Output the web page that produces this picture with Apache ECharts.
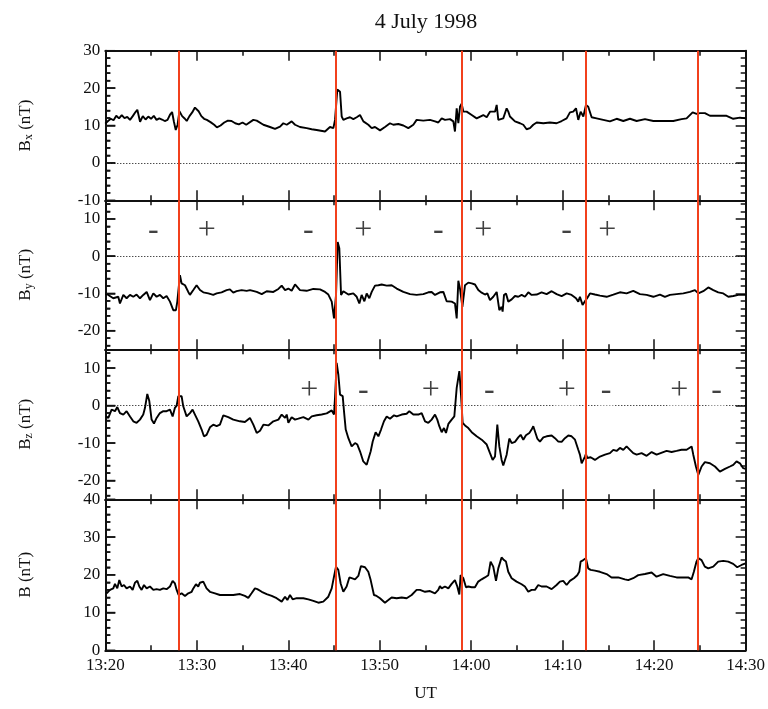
<!DOCTYPE html>
<html><head><meta charset="utf-8">
<script src="https://cdn.jsdelivr.net/npm/echarts@6/dist/echarts.min.js"></script>
<style>html,body{margin:0;padding:0;background:#fff}#c{width:768px;height:709px}</style>
</head><body><div id="c"></div>
<script>
// time in minutes after 13:20 UT
const bxT = [0.0,0.3,0.6,0.9,1.2,1.5,1.8,2.1,2.4,2.7,3.0,3.3,3.5,3.8,4.1,4.4,4.7,5.0,5.3,5.6,5.9,6.2,6.5,6.8,7.1,7.3,7.5,7.7,7.9,8.1,8.4,8.7,8.9,9.2,9.5,9.8,9.95,10.2,10.5,10.8,11.1,11.5,11.9,12.2,12.6,13.0,13.4,13.8,14.2,14.6,15.0,15.4,15.6,16.18,16.55,17.28,18.0,18.55,19.1,19.46,19.83,20.37,20.74,21.28,22.01,22.56,23.1,24.02,24.56,24.93,25.11,25.36,25.66,25.84,26.02,26.38,26.75,27.11,27.48,27.84,28.21,28.75,29.12,29.48,30.03,30.57,31.12,31.48,32.03,32.58,33.12,33.67,34.03,34.76,35.49,36.04,36.4,36.77,37.13,37.68,38.04,38.22,38.41,38.59,38.77,38.95,39.14,39.5,40.05,40.59,41.32,41.69,42.05,42.6,42.78,42.96,43.14,43.5,43.87,44.05,44.23,44.78,45.33,45.69,46.05,46.42,46.78,47.15,47.88,48.6,49.33,49.88,50.43,50.79,51.15,51.45,51.7,51.96,52.25,52.54,52.79,53.16,53.7,54.43,55.16,55.89,56.62,57.35,58.08,58.99,59.9,60.99,62.08,62.99,63.54,64.2,64.63,65.0,65.54,66.09,66.82,67.91,68.64,69.37,70.0];
const bxV = [10.5,11.2,11.8,11.4,12.6,11.9,12.8,12.0,12.3,11.5,12.5,13.6,14.2,11.0,12.5,11.6,12.4,11.8,12.6,11.5,11.9,11.6,11.2,11.5,13.0,13.6,11.0,8.8,10.2,13.8,12.5,11.8,11.2,12.5,13.5,14.8,15.2,13.8,12.5,11.8,11.5,10.9,10.2,9.5,10.0,10.8,11.3,11.2,10.6,10.3,10.8,10.2,9.7,11.5,11.3,10.2,9.6,9.1,9.7,10.6,10.2,11.1,10.2,9.6,9.3,9.0,8.8,8.4,9.6,9.3,11.5,19.6,19.0,12.4,11.5,11.9,12.2,11.7,12.2,12.8,11.1,10.2,9.3,9.6,8.7,9.6,10.6,10.2,10.4,10.0,9.3,10.2,11.5,11.3,11.5,11.1,10.8,11.9,11.5,11.7,11.1,8.4,14.6,10.6,15.0,15.8,13.7,13.7,12.8,11.9,12.8,12.2,13.7,13.7,15.5,11.5,11.1,11.9,14.6,13.7,12.4,11.1,10.6,10.2,9.0,9.3,10.2,10.8,10.6,10.8,10.6,11.2,11.9,13.5,13.7,14.6,11.5,13.7,12.4,15.5,15.0,12.2,11.9,11.5,11.1,11.8,11.2,11.8,11.2,11.7,11.2,11.2,11.2,11.7,11.9,13.5,13.1,13.3,13.3,12.6,12.6,12.6,11.8,12.1,11.9];

const byT = [0.0,0.33,0.87,1.42,1.6,1.97,2.33,2.7,3.06,3.42,3.79,4.15,4.52,4.88,5.25,5.61,5.97,6.34,6.7,7.07,7.43,7.72,7.87,8.16,8.34,8.71,9.07,9.25,9.62,9.98,10.35,10.71,11.26,11.8,12.17,12.71,13.26,13.62,13.99,14.35,14.9,15.45,15.82,16.55,17.1,17.64,18.37,18.92,19.28,19.65,20.01,20.37,20.74,21.28,22.01,22.74,23.47,24.02,24.38,24.75,25.0,25.22,25.4,25.58,25.77,26.02,26.57,27.11,27.48,27.77,28.02,28.32,28.57,28.86,29.12,29.48,29.85,30.21,30.76,31.3,31.85,32.58,33.31,34.03,34.76,35.31,35.67,36.04,36.58,36.95,37.31,37.86,38.22,38.41,38.59,38.77,39.03,39.32,39.68,40.05,40.41,40.77,41.14,41.5,41.76,42.05,42.41,42.78,43.07,43.32,43.43,43.58,43.8,44.05,44.42,44.78,45.14,45.51,45.87,46.24,46.6,47.15,47.69,48.24,48.79,49.33,49.88,50.43,50.97,51.45,51.7,51.88,52.17,52.43,52.68,52.98,53.52,54.07,54.8,55.53,56.25,56.98,57.71,58.44,59.17,59.9,60.63,61.17,61.72,62.45,63.18,63.9,64.45,64.82,65.36,65.91,66.46,67.0,67.55,68.1,68.64,69.19,70.0];
const byV = [-10.0,-10.4,-11.3,-10.9,-12.7,-10.4,-11.3,-10.4,-10.9,-10.3,-11.3,-10.4,-9.6,-11.8,-10.0,-10.9,-10.4,-11.3,-10.7,-12.2,-14.5,-14.5,-12.2,-5.1,-7.3,-7.8,-9.6,-10.4,-9.1,-7.8,-9.1,-9.7,-10.0,-10.4,-10.0,-9.7,-9.1,-8.9,-9.8,-9.4,-9.1,-9.3,-9.1,-9.6,-10.2,-9.4,-9.6,-8.8,-7.9,-9.1,-8.7,-9.3,-7.6,-9.1,-9.3,-8.8,-8.9,-9.6,-10.3,-12.2,-16.7,-10.4,3.8,2.1,-10.4,-9.4,-10.3,-10.0,-10.9,-12.7,-10.4,-12.1,-10.0,-11.3,-9.6,-7.9,-7.8,-7.6,-7.9,-7.8,-8.7,-9.6,-10.2,-10.4,-10.2,-9.7,-9.6,-10.4,-9.7,-9.6,-12.1,-12.2,-12.7,-16.7,-6.6,-8.7,-13.6,-7.8,-7.1,-7.3,-7.6,-9.1,-9.8,-10.3,-10.0,-11.8,-10.9,-9.6,-14.5,-13.6,-14.9,-10.4,-10.0,-12.2,-11.6,-10.7,-10.9,-10.4,-10.9,-9.7,-10.4,-10.3,-9.7,-10.2,-9.4,-10.2,-10.7,-10.0,-10.4,-11.3,-12.2,-10.9,-13.1,-12.1,-11.2,-10.0,-10.3,-10.6,-10.9,-10.3,-9.7,-10.0,-9.3,-10.2,-10.4,-10.9,-10.3,-10.9,-10.4,-10.2,-10.0,-9.6,-9.1,-10.0,-9.4,-8.4,-9.1,-9.7,-10.0,-10.9,-10.7,-10.4,-10.4];

const bzT = [0.07,0.33,0.69,1.06,1.31,1.6,1.97,2.33,2.7,3.06,3.42,3.79,4.15,4.34,4.59,4.81,5.06,5.32,5.61,5.97,6.34,6.7,7.07,7.36,7.61,7.8,7.98,8.34,8.52,8.89,9.25,9.54,9.8,10.16,10.53,10.78,11.07,11.44,11.8,12.17,12.53,12.9,13.44,13.99,14.72,15.26,15.81,16.18,16.55,16.91,17.28,17.82,18.37,18.92,19.28,19.65,19.83,20.01,20.37,20.74,21.1,21.65,22.2,22.56,23.1,23.65,24.2,24.75,25.0,25.11,25.29,25.47,25.66,25.95,26.09,26.28,26.57,26.93,27.3,27.55,27.84,28.2,28.57,28.75,29.01,29.23,29.55,29.85,30.14,30.46,30.76,31.12,31.56,31.85,32.4,32.94,33.23,33.67,34.22,34.58,34.95,35.31,35.67,36.04,36.29,36.51,36.77,37.02,37.24,37.5,37.86,38.15,38.41,38.7,38.88,39.06,39.32,39.68,40.05,40.59,41.14,41.69,42.05,42.34,42.6,42.85,43.07,43.32,43.5,43.69,43.87,44.16,44.42,44.78,45.14,45.4,45.69,45.98,46.35,46.6,46.78,46.97,47.22,47.51,47.88,48.24,48.79,49.15,49.52,49.88,50.24,50.61,50.97,51.34,51.52,51.7,51.88,52.07,52.25,52.43,52.54,52.68,53.05,53.52,54.07,54.62,55.16,55.53,55.89,56.25,56.62,56.98,57.35,57.71,58.08,58.62,59.17,59.72,60.26,60.99,61.35,61.9,62.45,62.99,63.54,64.09,64.27,64.56,64.82,65.18,65.54,66.09,66.64,67.18,67.73,68.28,68.64,69.0,69.37,69.73,69.99];
const bzV = [-2.9,-3.3,-1.1,-1.5,-0.4,-2.0,-2.4,-1.5,-2.9,-4.2,-4.6,-3.75,-2.4,-0.6,3.1,1.2,-3.75,-4.8,-3.3,-2.0,-1.5,-1.5,-1.1,-2.9,-0.6,0.0,2.5,2.5,-0.2,-2.9,-2.0,-1.1,-2.4,-4.2,-6.4,-8.2,-7.8,-5.8,-5.1,-5.5,-5.1,-2.6,-3.1,-3.75,-4.2,-4.4,-3.3,-5.1,-7.3,-6.7,-5.1,-5.3,-4.2,-3.75,-2.4,-3.3,-2.4,-4.6,-3.1,-3.75,-3.5,-3.1,-3.75,-2.9,-2.6,-2.4,-2.1,-1.3,-2.4,2.1,11.4,8.3,2.9,2.5,-1.5,-6.4,-8.7,-10.9,-10.0,-10.4,-12.2,-14.9,-15.8,-15.4,-12.2,-9.6,-7.1,-8.2,-6.4,-4.2,-2.9,-3.5,-2.6,-2.9,-2.4,-2.2,-1.5,-2.4,-2.4,-2.0,-4.2,-4.6,-3.75,-2.4,-3.75,-5.5,-7.1,-6.0,-7.3,-4.9,-3.75,-2.9,4.7,9.2,2.9,-4.6,-5.3,-6.0,-7.1,-8.2,-9.1,-10.4,-12.7,-14.5,-13.6,-5.1,-10.9,-14.5,-16.0,-15.8,-13.1,-8.8,-10.0,-9.7,-8.5,-7.8,-9.1,-7.9,-7.3,-6.4,-5.5,-6.0,-8.8,-9.6,-8.5,-8.2,-8.0,-8.7,-9.6,-9.7,-8.7,-8.0,-8.2,-9.1,-8.7,-11.8,-13.1,-15.4,-14.9,-13.6,-12.9,-14.0,-13.8,-14.5,-13.6,-13.1,-12.7,-11.8,-12.1,-11.3,-11.8,-10.9,-11.8,-12.7,-13.1,-12.7,-13.4,-12.4,-13.1,-12.4,-12.1,-12.4,-12.1,-11.8,-11.8,-10.9,-13.1,-16.25,-18.5,-16.25,-15.1,-15.4,-16.25,-17.6,-16.9,-16.25,-15.8,-14.9,-15.4,-16.7,-16.9];

const bT = [0.15,0.51,0.87,1.06,1.31,1.53,1.79,2.04,2.33,2.7,2.99,3.24,3.5,3.72,3.97,4.23,4.52,4.88,5.25,5.61,5.97,6.34,6.7,7.07,7.36,7.61,7.8,8.01,8.16,8.34,8.71,9.07,9.44,9.62,9.91,10.16,10.35,10.71,11.07,11.44,11.99,12.53,13.26,13.99,14.72,15.26,15.63,15.99,16.36,16.62,17.1,17.64,18.19,18.73,19.28,19.65,19.9,20.19,20.48,20.92,21.65,22.2,22.74,23.29,23.83,24.38,24.75,25.0,25.22,25.47,25.73,26.02,26.38,26.68,26.93,27.3,27.66,27.95,28.39,28.75,29.01,29.37,29.66,30.03,30.57,30.94,31.3,31.85,32.4,32.94,33.49,34.03,34.4,34.95,35.49,36.04,36.4,36.58,36.77,37.13,37.5,37.86,38.22,38.48,38.7,38.84,39.14,39.43,39.68,40.05,40.41,40.77,41.14,41.5,41.87,42.12,42.41,42.71,42.96,43.32,43.58,43.8,44.05,44.42,44.96,45.51,45.87,46.24,46.6,46.97,47.33,47.69,48.24,48.79,49.33,49.7,50.06,50.43,50.79,51.23,51.59,51.81,51.96,52.25,52.54,52.79,53.05,53.52,54.07,54.8,55.34,56.07,56.8,57.17,57.71,58.26,58.99,59.72,60.26,60.99,61.72,62.45,63.18,63.72,64.09,64.34,64.63,64.82,65.18,65.54,65.91,66.46,67.0,67.55,68.1,68.64,69.08,69.55,69.99];
const bV = [15.1,16.0,16.4,17.6,16.4,18.6,16.9,17.3,16.4,16.9,16.0,17.9,18.4,16.9,16.0,17.3,16.4,16.9,16.0,16.2,16.0,16.4,16.2,16.9,18.4,17.7,16.0,14.65,14.4,15.1,14.4,15.1,15.5,16.4,17.5,16.9,17.9,18.2,16.4,15.5,15.1,14.65,14.65,14.65,14.9,14.4,13.9,15.1,16.4,16.2,15.5,14.9,14.4,13.8,12.9,14.2,13.3,14.65,13.5,13.8,13.8,13.5,13.1,12.6,12.9,14.2,16.4,19.5,22.15,21.3,17.7,15.5,16.9,19.3,19.1,18.8,19.7,22.3,22.0,20.8,18.6,14.65,14.4,13.8,12.6,13.3,14.0,13.8,14.0,13.8,14.65,16.0,16.0,15.5,15.7,15.1,16.0,17.0,16.4,16.9,16.4,17.6,18.6,16.9,14.8,19.9,19.1,16.7,16.9,16.7,16.7,18.2,18.8,19.3,19.9,23.5,22.15,18.4,21.7,24.6,23.9,23.5,20.8,19.1,18.2,17.5,16.9,15.5,16.0,16.0,17.3,16.9,16.9,16.2,17.3,18.2,18.4,17.3,18.4,19.1,19.9,20.8,23.5,23.9,24.4,21.7,21.3,21.1,20.8,20.2,19.3,19.3,18.8,18.6,19.1,19.9,20.2,20.6,19.5,20.2,19.7,19.3,19.3,19.3,18.8,20.8,23.5,24.4,23.9,22.15,21.7,22.15,23.5,23.7,23.5,22.9,22.0,22.6,23.0];

// vertical boundary markers (minutes after 13:20)
const boundaryT = [8.0, 25.2, 39.0, 52.5, 64.8];

// sign annotations
const byLabelT = [5.25, 11.08, 22.19, 28.2, 36.4, 41.32, 50.43, 54.87];
const byLabelV = [7, 7, 7, 7, 7, 7, 7, 7];
const byLabelS = ['-', '+', '-', '+', '-', '+', '-', '+'];
const bzLabelT = [22.3, 28.2, 35.57, 41.97, 50.43, 54.73, 62.74, 66.83];
const bzLabelV = [4, 4, 4, 4, 4, 4, 4, 4];
const bzLabelS = ['+', '-', '+', '-', '+', '-', '+', '-'];

// axes
const xTickLabels = ['13:20','13:30','13:40','13:50','14:00','14:10','14:20','14:30'];
const ranges = [[-10, 30], [-25, 15], [-25, 15], [0, 40]];
const names = ['{a|B}{b|x}{a| (nT)}', '{a|B}{b|y}{a| (nT)}', '{a|B}{b|z}{a| (nT)}', '{a|B (nT)}'];

const SERIF = '"Liberation Serif", "DejaVu Serif", serif';
const INK = '#111';
const RED = '#f2401c';
const PLOT_L = 105.3, PLOT_R = 745.7;
const gridTops = [50.7, 200.3, 349.3, 499.3];
const gridBottoms = [200.3, 349.3, 499.3, 650.3];

function zip(t, v) { return t.map((x, i) => [x, v[i]]); }
function ls(w) { return { color: INK, width: w }; }
function evenTicks(r) {
  const out = [];
  for (let v = Math.ceil(r[0] / 2) * 2; v <= r[1]; v += 2) out.push(v);
  return out;
}

const grids = [], xAxes = [], yAxes = [], series = [];
const values = [[bxT, bxV], [byT, byV], [bzT, bzV], [bT, bV]];
const Y_PER_GRID = 2;

for (let i = 0; i < 4; i++) {
  grids.push({ left: PLOT_L, right: 768 - PLOT_R, top: gridTops[i], height: gridBottoms[i] - gridTops[i] });
  ['bottom', 'top'].forEach(pos => {
    xAxes.push({
      gridIndex: i, type: 'value', min: 0, max: 70, interval: 10, position: pos,
      axisLine: { show: true, onZero: false, lineStyle: ls(2) },
      axisTick: { show: true, inside: true, length: 10, lineStyle: ls(1.5) },
      minorTick: { show: true, splitNumber: 2, length: 5, lineStyle: ls(1.5) },
      splitLine: { show: false }, minorSplitLine: { show: false },
      axisLabel: { show: i === 3 && pos === 'bottom', margin: 7, fontSize: 17, fontFamily: SERIF, color: INK,
        formatter: v => xTickLabels[Math.round(v / 10)] },
      name: (i === 3 && pos === 'bottom') ? 'UT' : '',
      nameLocation: 'middle', nameGap: 35,
      nameTextStyle: { fontSize: 17, fontFamily: SERIF, color: INK }
    });
  });
  const r = ranges[i];
  const base = () => ({ gridIndex: i, type: 'value', min: r[0], max: r[1], splitNumber: 4,
    splitLine: { show: false }, minorSplitLine: { show: false } });
  yAxes.push(Object.assign(base(), {
    position: 'left',
    axisLine: { show: true, onZero: false, lineStyle: ls(2) },
    axisTick: { show: true, inside: true, length: 10, lineStyle: ls(1.5) },
    minorTick: { show: true, splitNumber: 5, length: 5, lineStyle: ls(1.5) },
    axisLabel: { show: true, showMinLabel: true, showMaxLabel: true, margin: 5, fontSize: 17,
      fontFamily: SERIF, color: INK, formatter: v => (Math.abs(v % 10) < 1e-9 ? String(v) : '') },
    name: names[i], nameLocation: 'middle', nameGap: 70, nameRotate: 90,
    nameTextStyle: { fontFamily: SERIF, color: INK, rich: {
      a: { fontSize: 17, fontFamily: SERIF, color: INK, lineHeight: 20 },
      b: { fontSize: 12, fontFamily: SERIF, color: INK, lineHeight: 12, verticalAlign: 'bottom' }
    } }
  }));
  yAxes.push(Object.assign(base(), {
    position: 'right',
    axisLine: { show: true, onZero: false, lineStyle: ls(2) },
    axisTick: { show: true, inside: true, length: 10, lineStyle: ls(1.5) },
    minorTick: { show: true, splitNumber: 5, length: 5, lineStyle: ls(1.5) },
    axisLabel: { show: false }
  }));

  const ml = [];
  if (i < 3) ml.push({ yAxis: 0, lineStyle: { type: [1, 2], color: '#000', width: 1 } });
  boundaryT.forEach(t => ml.push({ xAxis: t, lineStyle: { type: 'solid', color: RED, width: 2 } }));
  series.push({
    type: 'line', xAxisIndex: 2 * i, yAxisIndex: Y_PER_GRID * i, data: zip(values[i][0], values[i][1]),
    showSymbol: false, symbol: 'none', lineStyle: { color: '#000', width: 1.9 }, z: 2,
    markLine: { silent: true, symbol: ['none', 'none'], label: { show: false }, data: ml, animation: false }
  });
}

function signSeries(gi, T, V, S) {
  return {
    type: 'scatter', xAxisIndex: 2 * gi, yAxisIndex: Y_PER_GRID * gi, z: 6, symbolSize: 1,
    itemStyle: { color: 'rgba(0,0,0,0)' },
    data: T.map((t, k) => ({ value: [t, V[k]], name: S[k] })),
    label: { show: true, position: 'inside', formatter: '{b}', fontSize: 32, fontFamily: SERIF, color: INK,
      backgroundColor: '#fff', padding: [0, 3], lineHeight: 30 }
  };
}
series.push(signSeries(1, byLabelT, byLabelV, byLabelS));
series.push(signSeries(2, bzLabelT, bzLabelV, bzLabelS));

const titleGfx = { type: 'text', x: 426, y: 22, style: { text: '4 July 1998', align: 'center', verticalAlign: 'middle',
  fontSize: 22, fontFamily: SERIF, fill: INK } };

const chart = echarts.init(document.getElementById('c'), null, { renderer: 'canvas' });
chart.setOption({
  animation: false,
  backgroundColor: '#fff',
  grid: grids, xAxis: xAxes, yAxis: yAxes, series: series,
  graphic: [titleGfx]
});

// inward ticks on the left frame, positioned through each panel's y scale
const tickGfx = [];
for (let i = 0; i < 4; i++) {
  evenTicks(ranges[i]).forEach(v => {
    const p = chart.convertToPixel({ xAxisIndex: 2 * i, yAxisIndex: Y_PER_GRID * i }, [0, v]);
    if (!p || isNaN(p[0]) || isNaN(p[1])) return;
    const len = Math.abs(v % 10) < 1e-9 ? 10 : 5;
    tickGfx.push({ type: 'line', silent: true, z: 100,
      shape: { x1: p[0], y1: p[1], x2: p[0] + len, y2: p[1] },
      style: { stroke: INK, lineWidth: 1.5 } });
  });
}
chart.setOption({ graphic: [titleGfx].concat(tickGfx) });
</script></body></html>
